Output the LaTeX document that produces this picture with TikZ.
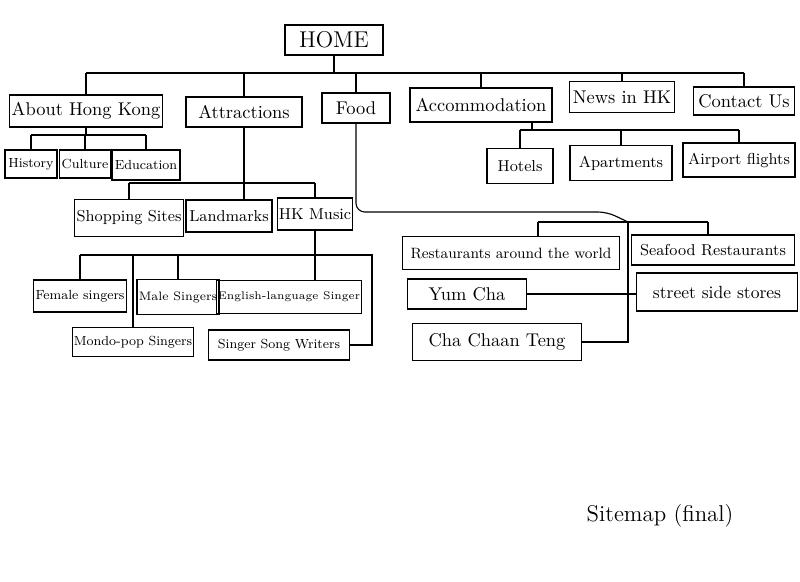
\documentclass[tikz,border=0pt]{standalone}
\usepackage{tikz}

\begin{document}
\begin{tikzpicture}[
  x=0.02cm, y=-0.02cm,
  line width=0.65pt,
  % Every page of the site is a plain outlined box of a given size (in px).
  page/.style={draw,inner sep=1pt,align=center},
  sz/.style 2 args={minimum width=#1*0.02cm,minimum height=#2*0.02cm},
  top/.style={page,font=\fontsize{10.5}{12}\selectfont},
  mid/.style={page,font=\fontsize{9}{11}\selectfont},
  low/.style={page,font=\fontsize{7.5}{9}\selectfont},
]
\useasboundingbox (0,0) rectangle (800,581);

%--- bus levels --------------------------------------------------------------
\coordinate (topbus)   at (0,73);      % under HOME
\coordinate (aboutbus) at (0,135);     % under About Hong Kong
\coordinate (accombus) at (532,130);   % under Accommodation
\coordinate (attrbus)  at (0,183);     % under Attractions
\coordinate (musicbus) at (372,255);   % under HK Music, right end
\coordinate (foodturn) at (607,212);   % where the Food line turns down
\coordinate (fbL)      at (538,222);   % Food bus, left end
\coordinate (fbM)      at (628,222);   % Food bus, middle drop
\coordinate (fbR)      at (708,222);   % Food bus, right end

%--- pages -------------------------------------------------------------------
\node[top,sz={98}{30},font=\fontsize{13}{15}\selectfont] (home) at (334,40) {HOME};

\node[top,sz={153}{32}] (about)   at (86,111)  {About Hong Kong};
\node[top,sz={116}{30}] (attract) at (244,112) {Attractions};
\node[top,sz={68}{30}]  (food)    at (356,108) {Food};
\node[top,sz={142}{34}] (accom)   at (481,105) {Accommodation};
\node[top,sz={105}{31}] (news)    at (622,97)  {News in HK};
\node[top,sz={101}{28}] (contact) at (744,101) {Contact Us};

\node[low,sz={52}{28}] (history)   at (31,164)  {History};
\node[low,sz={48}{28}] (culture)   at (85,164)  {Culture};
\node[low,sz={68}{30}] (education) at (146,165) {Education};

\node[mid,sz={66}{35}]  (hotels)  at (520,166) {Hotels};
\node[mid,sz={102}{35}] (apart)   at (621,163) {Apartments};
\node[mid,sz={112}{34}] (airport) at (739,160) {Airport flights};

\node[mid,sz={102}{37}] (shopping)  at (129,218) {Shopping Sites};
\node[mid,sz={86}{32}]  (landmarks) at (229,216) {Landmarks};
\node[mid,sz={72}{32}]  (hkmusic)   at (315,214) {HK Music};

\node[low,sz={90}{32}]  (female)  at (80,296)  {Female singers};
\node[low,sz={80}{35},font=\fontsize{7}{8}\selectfont] (male) at (178,297) {Male Singers};
\node[low,sz={134}{33},font=\fontsize{6.3}{8}\selectfont] (english) at (289,297) {English-language Singer};
\node[low,sz={120}{29}] (mondo)   at (133,342) {Mondo-pop Singers};
\node[low,sz={141}{30}] (ssw)     at (279,345) {Singer Song Writers};

\node[mid,sz={217}{33},font=\fontsize{8.5}{10}\selectfont] (world) at (511,253) {Restaurants around the world};
\node[mid,sz={163}{30}] (seafood)  at (713,250) {Seafood Restaurants};
\node[top,sz={119}{30}] (yumcha)   at (467,294) {Yum Cha};
\node[mid,sz={161}{38},font=\fontsize{10}{12}\selectfont] (street) at (717,292) {street side stores};
\node[top,sz={169}{37}] (chachaan) at (497,342) {Cha Chaan Teng};

\node[font=\fontsize{13}{15}\selectfont] (caption) at (660,516) {Sitemap (final)};

%--- HOME to the main sections -----------------------------------------------
\draw (home.south) -- (home.south |- topbus);
\draw (about.north |- topbus) -- (contact.north |- topbus);
\foreach \n in {about,attract,food,accom,news,contact}
  \draw (\n.north) -- (\n.north |- topbus);

%--- About Hong Kong ---------------------------------------------------------
\draw (about.south) -- (about.south |- aboutbus);
\draw (history.north |- aboutbus) -- (education.north |- aboutbus);
\foreach \n in {history,culture,education}
  \draw (\n.north) -- (\n.north |- aboutbus);

%--- Accommodation -----------------------------------------------------------
\draw (accombus) -- (accombus |- accom.south);
\draw (hotels.north |- accombus) -- (airport.north |- accombus);
\foreach \n in {hotels,apart,airport}
  \draw (\n.north) -- (\n.north |- accombus);

%--- Attractions -------------------------------------------------------------
\draw (attract.south) -- (attract.south |- landmarks.north);
\draw (shopping.north |- attrbus) -- (hkmusic.north |- attrbus);
\foreach \n in {shopping,hkmusic}
  \draw (\n.north) -- (\n.north |- attrbus);

% HK Music: the right end of its bus drops down to Singer Song Writers.
\draw (hkmusic.south) -- (hkmusic.south |- english.north);
\draw (female.north |- musicbus) -- (musicbus) |- (ssw.east);
\foreach \n in {female,male,mondo}
  \draw (\n.north) -- (\n.north |- musicbus);

%--- Food --------------------------------------------------------------------
\draw[rounded corners=5pt] (food.south) |- (foodturn) -- (fbM |- fbL);
\draw (fbL) -- (fbR);
\draw (fbL) -- (fbL |- world.north);
\draw (fbR) -- (fbR |- seafood.north);
\draw (fbM) |- (chachaan.east);
\draw (yumcha.east) -- (yumcha.east -| street.west);

\end{tikzpicture}
\end{document}
